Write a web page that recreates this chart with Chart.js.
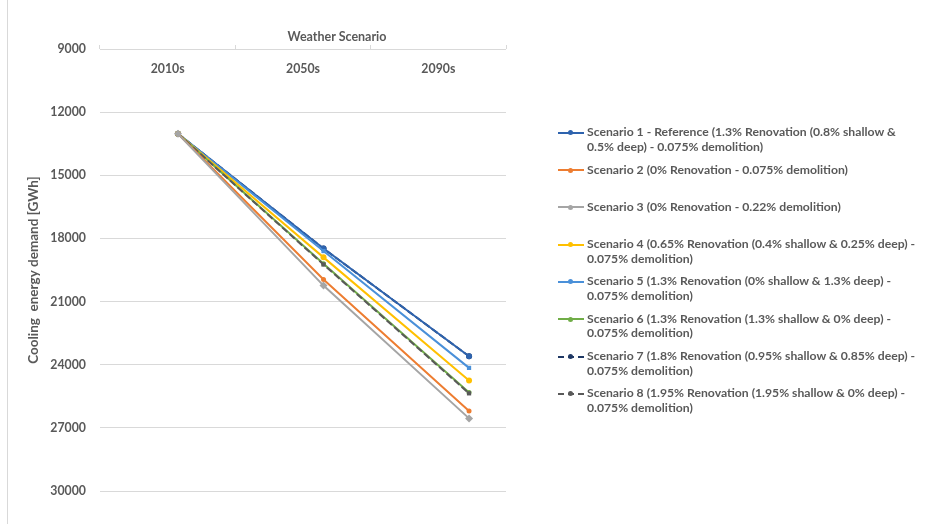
<!DOCTYPE html>
<html><head><meta charset="utf-8">
<script src="https://cdn.jsdelivr.net/npm/chart.js@4.4.1/dist/chart.umd.min.js"></script>
<style>
html,body{margin:0;padding:0;background:#fff;}
#wrap{position:relative;width:925px;height:524px;overflow:hidden;font-family:Lato,'Open Sans',sans-serif;}
#c{position:absolute;left:0;top:0;}
#frame{position:absolute;left:7px;top:0;width:1px;height:524px;background:#D9D9D9;}
#ttl{position:absolute;left:237px;top:29px;width:200px;text-align:center;font-size:12.5px;font-weight:700;color:#595959;line-height:16px;}
#legend{position:absolute;left:558px;top:125.3px;}
.item{height:37.3px;display:flex;align-items:flex-start;}
.sample{width:27px;height:14.7px;position:relative;flex:none;}
.sample .ln{position:absolute;left:0;right:1px;top:6.5px;height:0;border-top-width:2px;}
.sample .mk{position:absolute;left:10px;top:5px;width:5px;height:5px;border-radius:50%;}
.txt{font-size:12.2px;font-weight:700;color:#595959;line-height:14.7px;white-space:nowrap;padding-left:2px;}
</style></head>
<body>
<div id="wrap">
  <canvas id="c" width="925" height="524"></canvas>
  <div id="frame"></div>
  <div id="ttl">Weather Scenario</div>
  <div id="legend"></div>
</div>
<script>
// ---- data ----
const periods = ['2010s', '2050s', '2090s'];
const yTickValues = [9000, 12000, 15000, 18000, 21000, 24000, 27000, 30000];
const axisTitleX = 'Weather Scenario';
const axisTitleY = 'Cooling  energy demand [GWh]';

const scenario1 = [13030, 18480, 23600];
const scenario2 = [13030, 19950, 26200];
const scenario3 = [13030, 20240, 26550];
const scenario4 = [13030, 18900, 24750];
const scenario5 = [13030, 18600, 24150];
const scenario6 = [13030, 19200, 25320];
const scenario7 = [13030, 18480, 23600];
const scenario8 = [13030, 19240, 25360];

const scenarioNames = [
  ['Scenario 1 - Reference (1.3% Renovation (0.8% shallow &', '0.5% deep) - 0.075% demolition)'],
  ['Scenario 2 (0% Renovation - 0.075% demolition)'],
  ['Scenario 3 (0% Renovation - 0.22% demolition)'],
  ['Scenario 4 (0.65% Renovation (0.4% shallow & 0.25% deep) -', '0.075% demolition)'],
  ['Scenario 5 (1.3% Renovation (0% shallow & 1.3% deep) -', '0.075% demolition)'],
  ['Scenario 6 (1.3% Renovation (1.3% shallow & 0% deep) -', '0.075% demolition)'],
  ['Scenario 7 (1.8% Renovation (0.95% shallow & 0.85% deep) -', '0.075% demolition)'],
  ['Scenario 8 (1.95% Renovation (1.95% shallow & 0% deep) -', '0.075% demolition)']
];

// ---- styles ----
const values = [scenario1, scenario2, scenario3, scenario4, scenario5, scenario6, scenario7, scenario8];
const colors = ['#2E63AE', '#ED7D31', '#A5A5A5', '#FFC000', '#4A90D9', '#70AD47', '#1F3864', '#595959'];
const pstyles = ['circle', 'circle', 'rectRot', 'circle', 'rect', 'circle', 'circle', 'rect'];
const pradius = [3, 2.5, 4, 3, 3, 2.5, 3, 3];
const dashes = [[], [], [], [], [], [], [7, 3], [7, 3]];
const drawOrder = [2, 1, 7, 5, 3, 4, 0, 6];

const datasets = drawOrder.map(i => ({
  label: scenarioNames[i].join(' '),
  data: values[i].map((v, k) => ({ x: k, y: v })),
  xAxisID: 'xp',
  borderColor: colors[i],
  backgroundColor: colors[i],
  borderWidth: 2,
  borderDash: dashes[i],
  pointStyle: pstyles[i],
  pointRadius: pradius[i],
  pointBorderWidth: 0,
  tension: 0,
  fill: false
}));

const tickFont = { family: 'Lato', size: 12.3, weight: 'bold' };

new Chart(document.getElementById('c'), {
  type: 'line',
  data: { labels: periods, datasets },
  options: {
    responsive: false,
    animation: false,
    layout: { padding: { left: 0, top: 0, right: 419, bottom: 33 } },
    plugins: { legend: { display: false }, tooltip: { enabled: false } },
    scales: {
      x: {
        type: 'category',
        labels: periods,
        position: 'top',
        offset: true,
        border: { display: false },
        grid: { offset: true, drawOnChartArea: false, drawTicks: true, tickLength: 4, color: '#D9D9D9' },
        ticks: { font: tickFont, color: '#595959', mirror: true, padding: 12.4, maxRotation: 0, autoSkip: false },
        afterFit: s => { s.height = 49; }
      },
      xp: {
        type: 'linear',
        display: false,
        min: -0.536,
        max: 2.254
      },
      y: {
        reverse: true,
        min: 9000,
        max: 30000,
        border: { display: false },
        grid: { color: '#D9D9D9', drawTicks: false, lineWidth: 1 },
        afterBuildTicks: s => { s.ticks = yTickValues.map(v => ({ value: v })); },
        ticks: { font: tickFont, color: '#595959', padding: 14, callback: v => String(v) },
        title: { display: true, text: axisTitleY, color: '#595959', font: { family: 'Lato', size: 13.5, weight: 'bold' }, padding: { top: 26, bottom: 0 } },
        afterFit: s => { s.width = 100; }
      }
    }
  }
});

document.getElementById('ttl').textContent = axisTitleX;

// ---- legend ----
const lg = document.getElementById('legend');
scenarioNames.forEach((lines, i) => {
  const it = document.createElement('div');
  it.className = 'item';
  const sm = document.createElement('div');
  sm.className = 'sample';
  const ln = document.createElement('div');
  ln.className = 'ln';
  ln.style.borderTopStyle = dashes[i].length ? 'dashed' : 'solid';
  ln.style.borderTopColor = colors[i];
  const mk = document.createElement('div');
  mk.className = 'mk';
  mk.style.background = colors[i];
  sm.appendChild(ln); sm.appendChild(mk);
  const tx = document.createElement('div');
  tx.className = 'txt';
  lines.forEach((t, j) => {
    if (j) tx.appendChild(document.createElement('br'));
    tx.appendChild(document.createTextNode(t));
  });
  it.appendChild(sm); it.appendChild(tx);
  lg.appendChild(it);
});
</script>
</body></html>
